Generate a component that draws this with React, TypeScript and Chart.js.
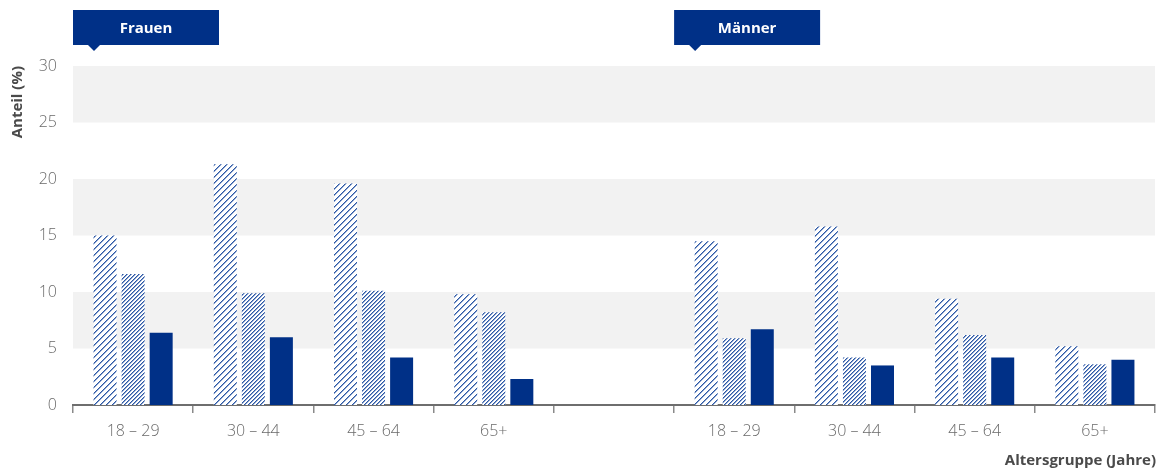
import { useEffect, useRef } from "react";
import { Chart, registerables } from "chart.js";

Chart.register(...registerables);

// Age groups: women (first four) and men (last four), with an empty spacer slot between
const categories = ["18 – 29", "30 – 44", "45 – 64", "65+", "", "18 – 29", "30 – 44", "45 – 64", "65+"];
const seriesWide = [15.0, 21.3, 19.6, 9.8, null, 14.5, 15.8, 9.4, 5.2];
const seriesDense = [11.6, 9.9, 10.1, 8.2, null, 5.9, 4.2, 6.2, 3.6];
const seriesSolid = [6.4, 6.0, 4.2, 2.3, null, 6.7, 3.5, 4.2, 4.0];
const groupLabels = ["Frauen", "Männer"];
const groupStartIndex = [0, 5];
const yMin = 0;
const yMax = 30;
const yStep = 5;
const yTitle = "Anteil (%)";
const xTitle = "Altersgruppe (Jahre)";

const NAVY = "#003087";
const HATCH = "#2c58a6";
const FONT = "'Open Sans', 'Noto Sans', sans-serif";

function makeHatch(spacing: number, color: string): CanvasPattern | string {
  const c = document.createElement("canvas");
  c.width = spacing;
  c.height = spacing;
  const g = c.getContext("2d");
  if (!g) return color;
  g.fillStyle = "#ffffff";
  g.fillRect(0, 0, spacing, spacing);
  for (let x = 0; x < spacing; x++) {
    for (let y = 0; y < spacing; y++) {
      const k = (x + y) % spacing;
      if (k === 0) {
        g.fillStyle = color;
        g.fillRect(x, y, 1, 1);
      } else if (k === 1) {
        g.fillStyle = "rgba(44,88,166,0.55)";
        g.fillRect(x, y, 1, 1);
      }
    }
  }
  const p = g.createPattern(c, "repeat");
  return p || color;
}

const bandPlugin = {
  id: "bands",
  beforeDatasetsDraw(chart: any) {
    const { ctx, chartArea, scales } = chart;
    const y = scales.y;
    ctx.save();
    ctx.fillStyle = "#f2f2f2";
    for (let v = yMin + yStep; v < yMax; v += yStep * 2) {
      const top = y.getPixelForValue(v + yStep);
      const bottom = y.getPixelForValue(v);
      ctx.fillRect(chartArea.left, top, chartArea.right - chartArea.left, bottom - top);
    }
    ctx.restore();
  },
};

const headerPlugin = {
  id: "headers",
  afterDraw(chart: any) {
    const { ctx, chartArea, scales } = chart;
    const x = scales.x;
    const half = (x.getPixelForValue(1) - x.getPixelForValue(0)) / 2;
    ctx.save();
    groupLabels.forEach((label, i) => {
      const left = x.getPixelForValue(groupStartIndex[i]) - half;
      const top = 10;
      const w = 146;
      const h = 35;
      ctx.fillStyle = NAVY;
      ctx.fillRect(left, top, w, h);
      ctx.beginPath();
      ctx.moveTo(left + 15, top + h);
      ctx.lineTo(left + 27, top + h);
      ctx.lineTo(left + 21, top + h + 6);
      ctx.closePath();
      ctx.fill();
      ctx.fillStyle = "#ffffff";
      ctx.font = `bold 15px ${FONT}`;
      ctx.textAlign = "center";
      ctx.textBaseline = "middle";
      ctx.fillText(label, left + w / 2, top + h / 2 + 1);
    });

    // axis titles
    ctx.fillStyle = "#4a4a4a";
    ctx.font = `bold 15px ${FONT}`;
    ctx.textAlign = "right";
    ctx.textBaseline = "middle";
    ctx.fillText(xTitle, chartArea.right + 1, 461);

    ctx.translate(18, chartArea.top);
    ctx.rotate(-Math.PI / 2);
    ctx.fillText(yTitle, 0, 0);
    ctx.restore();
  },
};

export default function App() {
  const ref = useRef<HTMLCanvasElement | null>(null);

  useEffect(() => {
    document.body.style.margin = "0";
    const canvas = ref.current;
    if (!canvas) return;

    const chart = new Chart(canvas, {
      type: "bar",
      data: {
        labels: categories,
        datasets: [
          { label: "A", data: seriesWide, backgroundColor: makeHatch(6, HATCH) as any, borderWidth: 0 },
          { label: "B", data: seriesDense, backgroundColor: makeHatch(4, HATCH) as any, borderWidth: 0 },
          { label: "C", data: seriesSolid, backgroundColor: NAVY, borderWidth: 0 },
        ],
      },
      options: {
        responsive: false,
        animation: false,
        events: [],
        layout: { padding: { top: 66, right: 5, left: 0, bottom: 0 } },
        datasets: {
          bar: { categoryPercentage: 0.7, barPercentage: 0.82, skipNull: true },
        },
        plugins: {
          legend: { display: false },
          tooltip: { enabled: false },
          title: { display: false },
        },
        scales: {
          x: {
            grid: {
              offset: true,
              drawOnChartArea: false,
              drawTicks: true,
              tickLength: 8,
              color: "#8a8a8a",
              lineWidth: 1.5,
            },
            border: { display: true, color: "#6e6e6e", width: 2 },
            ticks: {
              color: "#6a6a6a",
              font: { family: FONT, size: 16, weight: 300 as any },
              padding: 9,
              autoSkip: false,
              maxRotation: 0,
            },
            afterFit: (s: any) => {
              s.height = 67;
            },
          },
          y: {
            min: yMin,
            max: yMax,
            ticks: {
              stepSize: yStep,
              color: "#6a6a6a",
              font: { family: FONT, size: 16, weight: 300 as any },
              padding: 16,
            },
            grid: { display: false, drawTicks: false },
            border: { display: false },
            afterFit: (s: any) => {
              s.width = 73;
            },
          },
        },
      },
      plugins: [bandPlugin, headerPlugin],
    });

    return () => chart.destroy();
  }, []);

  return (
    <div style={{ width: 1160, height: 472 }}>
      <canvas ref={ref} width={1160} height={472} />
    </div>
  );
}
